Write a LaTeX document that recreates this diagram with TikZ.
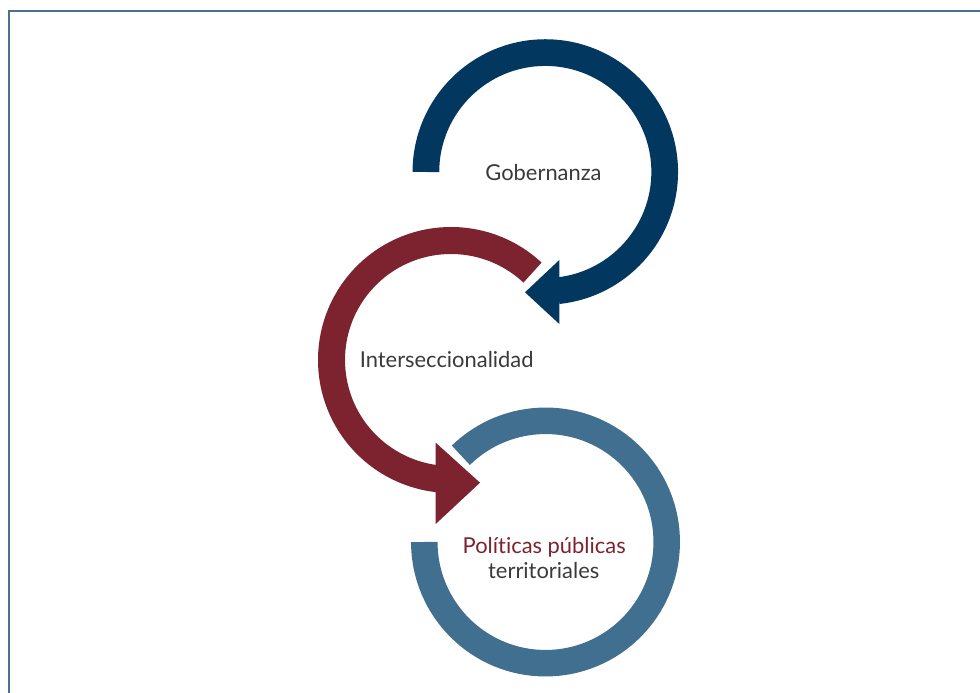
\documentclass[tikz,border=0pt]{standalone}
\usepackage{fontspec}
\setmainfont{Lato}[Ligatures={NoCommon}]
\definecolor{govblue}{HTML}{023860}
\definecolor{interred}{HTML}{7D222F}
\definecolor{polblue}{HTML}{416F8F}
\definecolor{framecol}{HTML}{4B7191}
\definecolor{labelgray}{HTML}{3A3A3A}
\tikzset{
  ring/.style={line width=26.7pt},
  label/.style={font=\fontsize{21.9}{26}\selectfont, text=labelgray, inner sep=0pt, anchor=base},
}
\begin{document}
\begin{tikzpicture}[x=1pt,y=1pt]
  \useasboundingbox (0,0) rectangle (980,693);
  % open frame: left and top edges
  \coordinate (fb) at (9,0);
  \coordinate (fc) at (9,682);
  \coordinate (fr) at (980,682);
  \draw[framecol, line width=2pt] (fb) -- (fc) -- (fr);

  % ring centres
  \coordinate (gc) at (545.3,521);
  \coordinate (ic) at (451,333);
  \coordinate (pc) at (545.5,151);

  % Políticas públicas: open ring
  \draw[ring, polblue, line width=26.5pt] ([shift={(180:121.2)}]pc)
    arc[start angle=180, end angle=494.3, radius=121.2];

  % Gobernanza: arrow ending to the left at the bottom
  \draw[ring, govblue] ([shift={(180:119.4)}]gc)
    arc[start angle=180, end angle=-84, radius=119.4];
  \coordinate (gh1) at (559.3,433);
  \coordinate (gh2) at (559.3,369);
  \coordinate (gtip) at (525,400.7);
  \fill[govblue] (gh1) -- (gtip) -- (gh2) -- cycle;

  % Interseccionalidad: arrow ending to the right at the bottom
  \draw[ring, interred, line width=27pt] ([shift={(47:119.5)}]ic)
    arc[start angle=47, end angle=264, radius=119.5];
  \coordinate (ih1) at (435.7,250.3);
  \coordinate (ih2) at (435.7,169);
  \coordinate (itip) at (480,210.3);
  \fill[interred] (ih1) -- (itip) -- (ih2) -- cycle;

  % labels
  \node[label] (gob) at (543.5,512.3) {Gobernanza};
  \node[label] (inter) at (446.7,325.7) {Interseccionalidad};
  \node[label, text=interred] (pol) at (544.2,139) {Políticas públicas};
  \node[label] (terr) at (543.7,114.7) {territoriales};
\end{tikzpicture}
\end{document}
